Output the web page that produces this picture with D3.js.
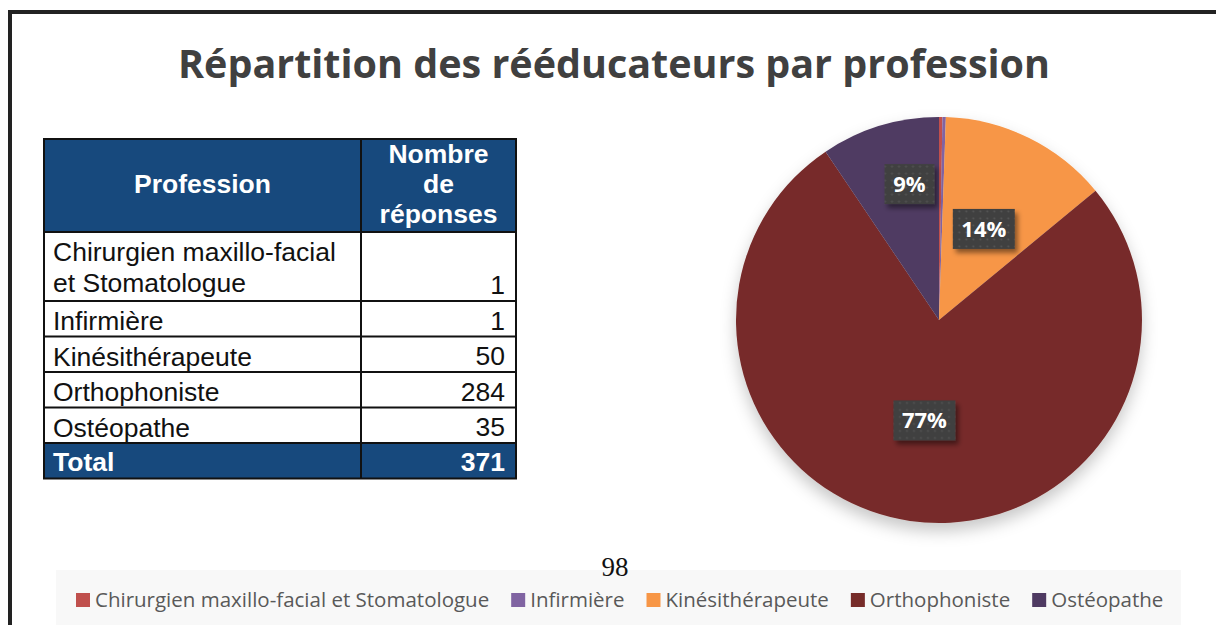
<!DOCTYPE html>
<html>
<head>
<meta charset="utf-8">
<script src="https://cdn.jsdelivr.net/npm/d3@7/dist/d3.min.js"></script>
<style>
  body { margin: 0; background: #fff; }
  svg { display: block; }
</style>
</head>
<body>
<div id="chart"></div>
<script>
// data
var professions = ["Chirurgien maxillo-facial et Stomatologue", "Infirmière", "Kinésithérapeute", "Orthophoniste", "Ostéopathe"];
var tableLabels = [["Chirurgien maxillo-facial", "et Stomatologue"], ["Infirmière"], ["Kinésithérapeute"], ["Orthophoniste"], ["Ostéopathe"]];
var responses = [1, 1, 50, 284, 35];
var total = 371;
var colors = ["#C0504D", "#8064A2", "#F79646", "#772C2A", "#4F3A62"];
var shownLabels = [null, null, "14%", "77%", "9%"];

var w = 1216, h = 625;

var svg = d3.select("#chart").append("svg")
  .attr("width", w)
  .attr("height", h);

var defs = svg.append("defs");

// dotted pattern for the label boxes
var pat = defs.append("pattern")
  .attr("id", "dots")
  .attr("width", 7).attr("height", 7)
  .attr("patternUnits", "userSpaceOnUse");
pat.append("rect").attr("width", 7).attr("height", 7).attr("fill", "#404040");
pat.append("circle").attr("cx", 3.5).attr("cy", 3.5).attr("r", 1).attr("fill", "#555");

var sh = defs.append("filter").attr("id", "boxShadow")
  .attr("x", "-30%").attr("y", "-30%").attr("width", "170%").attr("height", "170%");
sh.append("feDropShadow").attr("dx", 3).attr("dy", 4).attr("stdDeviation", 2.5)
  .attr("flood-color", "#000").attr("flood-opacity", 0.45);

var pieSh = defs.append("filter").attr("id", "pieShadow")
  .attr("x", "-20%").attr("y", "-20%").attr("width", "140%").attr("height", "150%");
pieSh.append("feDropShadow").attr("dx", 0).attr("dy", 8).attr("stdDeviation", 8)
  .attr("flood-color", "#000").attr("flood-opacity", 0.22);

// outer frame (top + left)
svg.append("line").attr("x1", 8).attr("x2", w).attr("y1", 12).attr("y2", 12)
  .attr("stroke", "#222").attr("stroke-width", 4);
svg.append("line").attr("x1", 10).attr("x2", 10).attr("y1", 10).attr("y2", h)
  .attr("stroke", "#222").attr("stroke-width", 4);

// title
svg.append("text")
  .attr("x", 614).attr("y", 78)
  .attr("text-anchor", "middle")
  .attr("font-family", "Open Sans")
  .attr("font-weight", "bold")
  .attr("font-size", 40)
  .attr("textLength", 872)
  .attr("lengthAdjust", "spacingAndGlyphs")
  .attr("fill", "#404040")
  .text("Répartition des rééducateurs par profession");

// ---- table ----
var tX = 44, tY = 139, col1 = 317, col2 = 155;
var headH = 93, lineH = 35.5, twoLineH = 69;
var rowY = [];
var yy = tY + headH;
tableLabels.forEach(function (l) {
  rowY.push(yy);
  yy += l.length === 2 ? twoLineH : lineH;
});
var totalY = yy;
var fs = 26.5;

var table = svg.append("g").attr("font-family", "Liberation Sans, Arial, sans-serif");

table.append("rect").attr("x", tX).attr("y", tY).attr("width", col1 + col2).attr("height", headH)
  .attr("fill", "#17497D");
table.append("rect").attr("x", tX).attr("y", totalY).attr("width", col1 + col2).attr("height", lineH)
  .attr("fill", "#17497D");

table.append("text").attr("x", tX + col1 / 2).attr("y", tY + 54)
  .attr("text-anchor", "middle").attr("fill", "#fff").attr("font-weight", "bold").attr("font-size", fs)
  .text("Profession");
["Nombre", "de", "réponses"].forEach(function (s, i) {
  table.append("text").attr("x", tX + col1 + col2 / 2).attr("y", tY + 24 + i * 30)
    .attr("text-anchor", "middle").attr("fill", "#fff").attr("font-weight", "bold").attr("font-size", fs)
    .text(s);
});

var rows = table.selectAll("g.row").data(tableLabels).enter().append("g").attr("class", "row");
rows.each(function (lines, i) {
  var g = d3.select(this);
  var y0 = rowY[i];
  var hh = lines.length === 2 ? twoLineH : lineH;
  lines.forEach(function (s, j) {
    g.append("text").attr("x", tX + 9).attr("y", y0 + 29 + j * 31)
      .attr("font-size", fs).attr("fill", "#111").text(s);
  });
  g.append("text").attr("x", tX + col1 + col2 - 11).attr("y", y0 + hh - 7)
    .attr("text-anchor", "end").attr("font-size", fs).attr("fill", "#111")
    .text(responses[i]);
  g.append("line").attr("x1", tX).attr("x2", tX + col1 + col2).attr("y1", y0 + hh).attr("y2", y0 + hh)
    .attr("stroke", "#111").attr("stroke-width", 2);
});

table.append("text").attr("x", tX + 9).attr("y", totalY + 28)
  .attr("fill", "#fff").attr("font-weight", "bold").attr("font-size", fs).text("Total");
table.append("text").attr("x", tX + col1 + col2 - 11).attr("y", totalY + 28)
  .attr("text-anchor", "end").attr("fill", "#fff").attr("font-weight", "bold").attr("font-size", fs)
  .text(total);

table.append("line").attr("x1", tX + col1).attr("x2", tX + col1).attr("y1", tY).attr("y2", totalY + lineH)
  .attr("stroke", "#111").attr("stroke-width", 2);
table.append("line").attr("x1", tX).attr("x2", tX + col1 + col2).attr("y1", tY + headH).attr("y2", tY + headH)
  .attr("stroke", "#111").attr("stroke-width", 2);
table.append("rect").attr("x", tX).attr("y", tY).attr("width", col1 + col2).attr("height", totalY + lineH - tY)
  .attr("fill", "none").attr("stroke", "#111").attr("stroke-width", 2);

// ---- pie ----
var cx = 939, cy = 320, r = 203;
var pie = d3.pie().sort(null).value(function (d) { return d; });
var arcs = pie(responses);
var arc = d3.arc().innerRadius(0).outerRadius(r);

var pg = svg.append("g").attr("transform", "translate(" + cx + "," + cy + ")");
pg.append("g").attr("filter", "url(#pieShadow)")
  .selectAll("path").data(arcs).enter().append("path")
  .attr("d", arc)
  .attr("fill", function (d, i) { return colors[i]; });

// label placement (radius factor + small nudge, as Excel places them)
var labelR = [0.5, 0.5, 0.5, 0.5, 0.7];
var labelDx = [0, 0, 0, 0, 12];
var lg = pg.selectAll("g.lbl").data(arcs.filter(function (d, i) { return shownLabels[i]; }))
  .enter().append("g").attr("class", "lbl")
  .attr("transform", function (d) {
    var rr = r * labelR[d.index];
    var a = (d.startAngle + d.endAngle) / 2;
    return "translate(" + (Math.sin(a) * rr + labelDx[d.index]) + "," + (-Math.cos(a) * rr) + ")";
  });
lg.append("rect")
  .attr("x", function (d) { return shownLabels[d.index].length > 2 ? -31 : -25; })
  .attr("y", -20)
  .attr("width", function (d) { return shownLabels[d.index].length > 2 ? 62 : 50; })
  .attr("height", 40)
  .attr("fill", "url(#dots)")
  .attr("filter", "url(#boxShadow)");
lg.append("text")
  .attr("text-anchor", "middle").attr("y", 8)
  .attr("font-family", "Open Sans").attr("font-weight", "bold").attr("font-size", 22)
  .attr("fill", "#fff")
  .text(function (d) { return shownLabels[d.index]; });

// ---- legend ----
svg.append("rect").attr("x", 56).attr("y", 570).attr("width", 1125).attr("height", 56)
  .attr("fill", "#f8f8f8");

// page number
svg.append("text").attr("x", 615).attr("y", 576).attr("text-anchor", "middle")
  .attr("font-family", "Liberation Serif, serif").attr("font-size", 27).attr("fill", "#111")
  .text("98");

var legend = svg.append("g").attr("font-family", "Open Sans").attr("font-size", 20.5).attr("fill", "#595959");
var items = legend.selectAll("g").data(professions).enter().append("g");
items.append("rect").attr("width", 14).attr("height", 14).attr("y", -14)
  .attr("fill", function (d, i) { return colors[i]; });
items.append("text").attr("x", 19).text(function (d) { return d; });
var xs = 76;
items.each(function () {
  var g = d3.select(this);
  g.attr("transform", "translate(" + xs + ",607)");
  xs += 19 + g.select("text").node().getComputedTextLength() + 22;
});
</script>
</body>
</html>
